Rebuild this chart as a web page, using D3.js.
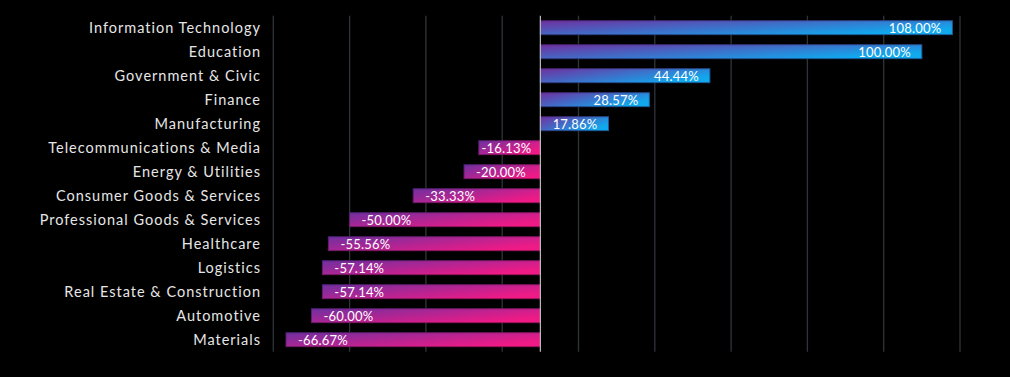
<!DOCTYPE html>
<html>
<head>
<meta charset="utf-8">
<script src="https://cdn.jsdelivr.net/npm/d3@7"></script>
<style>
  html, body { margin: 0; padding: 0; background: #000; }
  svg { display: block; }
</style>
</head>
<body>
<div id="chart"></div>
<script>
// values, in percent
var categories = ['Information Technology', 'Education', 'Government & Civic', 'Finance',
  'Manufacturing', 'Telecommunications & Media', 'Energy & Utilities',
  'Consumer Goods & Services', 'Professional Goods & Services', 'Healthcare',
  'Logistics', 'Real Estate & Construction', 'Automotive', 'Materials'];
var changes = [108.00, 100.00, 44.44, 28.57, 17.86, -16.13, -20.00,
  -33.33, -50.00, -55.56, -57.14, -57.14, -60.00, -66.67];
var gridTicks = [-70, -50, -30, -10, 10, 30, 50, 70, 90, 110];

const WIDTH = 1010;
const HEIGHT = 377;
var margin = { top: 15.7, left: 273.3, right: 50, bottom: 25.3 };

var svg = d3.select('#chart').append('svg')
  .attr('width', WIDTH)
  .attr('height', HEIGHT)
  .style('background', '#000');

var defs = svg.append('defs');
function addGradient (id, from, to) {
  var g = defs.append('linearGradient')
    .attr('id', id)
    .attr('x1', 0).attr('y1', 0)
    .attr('x2', 1).attr('y2', 0.6);
  g.append('stop').attr('offset', '0%').attr('stop-color', from);
  g.append('stop').attr('offset', '100%').attr('stop-color', to);
}
addGradient('posFill', '#7030a0', '#10a9ee');
addGradient('negFill', '#7030a0', '#ee1a86');
addGradient('posLine', '#4a2070', '#1b5c9a');
addGradient('negLine', '#4a2070', '#a0125c');

var x = d3.scaleLinear()
  .domain([-70, 110])
  .range([margin.left, WIDTH - margin.right]);

var y = d3.scaleBand()
  .domain(categories)
  .range([margin.top, HEIGHT - margin.bottom])
  .paddingInner(0.42)
  .paddingOuter(0.21);

// vertical gridlines
svg.append('g')
  .selectAll('line')
  .data(gridTicks)
  .enter().append('line')
  .attr('x1', function (d) { return x(d); })
  .attr('x2', function (d) { return x(d); })
  .attr('y1', margin.top)
  .attr('y2', HEIGHT - margin.bottom)
  .attr('stroke', '#30343a')
  .attr('stroke-width', 1.3);

// bars
svg.append('g')
  .selectAll('rect')
  .data(changes)
  .enter().append('rect')
  .attr('x', function (d) { return x(Math.min(0, d)); })
  .attr('y', function (d, i) { return y(categories[i]); })
  .attr('width', function (d) { return Math.abs(x(d) - x(0)); })
  .attr('height', y.bandwidth())
  .attr('fill', function (d) { return d >= 0 ? 'url(#posFill)' : 'url(#negFill)'; })
  .attr('stroke', function (d) { return d >= 0 ? 'url(#posLine)' : 'url(#negLine)'; })
  .attr('stroke-width', 1);

// zero line
svg.append('line')
  .attr('x1', x(0)).attr('x2', x(0))
  .attr('y1', margin.top)
  .attr('y2', HEIGHT - margin.bottom)
  .attr('stroke', '#bfbfbf')
  .attr('stroke-width', 1.2);

// category labels
svg.append('g')
  .selectAll('text')
  .data(categories)
  .enter().append('text')
  .attr('x', 261)
  .attr('y', function (d) { return y(d) + y.bandwidth() / 2; })
  .attr('dy', '0.36em')
  .attr('text-anchor', 'end')
  .style('font-family', 'Lato, sans-serif')
  .style('font-size', '14.5px')
  .style('letter-spacing', '1px')
  .attr('fill', '#e6e6e6')
  .text(function (d) { return d; });

// value labels
var fmt = function (v) { return v.toFixed(2) + '%'; };
var labels = svg.append('g')
  .selectAll('text')
  .data(changes)
  .enter().append('text')
  .attr('y', function (d, i) { return y(categories[i]) + y.bandwidth() - 1.2; })
  .style('font-family', 'Lato, sans-serif')
  .style('font-size', '13px')
  .style('letter-spacing', '0.2px')
  .attr('fill', '#ffffff')
  .text(function (d) { return fmt(d); });

labels.each(function (d) {
  var t = d3.select(this);
  var w = this.getComputedTextLength();
  if (d >= 0) {
    t.attr('text-anchor', 'end').attr('x', x(d) - 11);
  } else {
    var start = x(d) + 12;
    if (start + w > x(0) - 9) start = x(0) - 9 - w;
    t.attr('text-anchor', 'start').attr('x', start);
  }
});
</script>
</body>
</html>
